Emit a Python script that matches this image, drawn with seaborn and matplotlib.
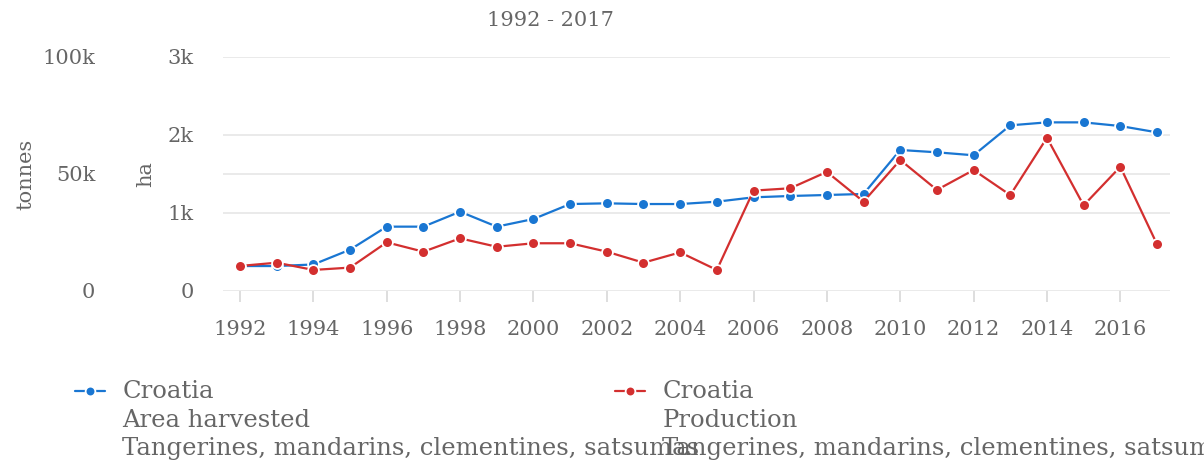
import numpy as np
import pandas as pd
import seaborn as sns
import matplotlib.pyplot as plt
from matplotlib.lines import Line2D
from matplotlib.legend_handler import HandlerLine2D
from matplotlib.ticker import FixedLocator

sns.set_style("white")
plt.rcParams['font.family'] = ['DejaVu Serif']

# Data
years = list(range(1992, 2018))
area_ha = [320, 320, 340, 530, 825, 825, 1017, 825, 923, 1115,
           1124, 1115, 1115, 1145, 1201, 1218, 1231, 1244, 1808, 1778,
           1740, 2124, 2162, 2162, 2115, 2034]
production_t = [10700, 12100, 9000, 10000, 20800, 16800, 22500, 18900, 20400, 20400,
                16800, 12100, 16500, 9000, 42900, 43900, 50900, 38200, 56000, 43200,
                51700, 41000, 65500, 36600, 53100, 20000]

ha_ticks = [0, 1000, 2000, 3000]
ha_labels = ['0', '1k', '2k', '3k']
t_ticks = [0, 50000, 100000]
t_labels = ['0', '50k', '100k']
x_ticks = list(range(1992, 2017, 2))

title = "1992 - 2017"
item = "Tangerines, mandarins, clementines, satsumas"
series = [("Croatia\nArea harvested\n" + item, "#1976d2"),
          ("Croatia\nProduction\n" + item, "#d32f2f")]

df = pd.DataFrame({"Year": years, "Area": area_ha, "Production": production_t})

grey = "#666666"
grid_c = "#e6e6e6"
fs = 15
leg_fs = 17.5

W, H = 1204, 466
fig = plt.figure(figsize=(W / 100, H / 100), dpi=100)
left, right, top, bottom = 223, 1170, 57, 291
ax = fig.add_axes([left / W, 1 - bottom / H, (right - left) / W, (bottom - top) / H])
ax2 = ax.twinx()

line_kw = dict(marker='o', markersize=7.8, markeredgecolor='white',
               markeredgewidth=1.3, linewidth=1.6, clip_on=False)
sns.lineplot(data=df, x="Year", y="Area", ax=ax, color=series[0][1], **line_kw)
sns.lineplot(data=df, x="Year", y="Production", ax=ax2, color=series[1][1], **line_kw)

ax.set_xlim(1992 - 17 / 36.67, 2017 + 13 / 36.67)
ax.set_ylim(ha_ticks[0], ha_ticks[-1])
ax2.set_ylim(t_ticks[0], t_ticks[-1])

# ha axis (inner)
ax.set_yticks(ha_ticks)
ax.set_yticklabels(ha_labels)
ax.yaxis.set_minor_locator(FixedLocator([t * ha_ticks[-1] / t_ticks[-1] for t in t_ticks]))
ax.tick_params(axis='y', which='both', length=0, pad=21, labelsize=fs, labelcolor=grey)
ax.grid(True, axis='y', which='both', color=grid_c, linewidth=1.2)
ax.set_axisbelow(True)

# tonnes axis (outer, also on the left)
ax2.yaxis.tick_left()
ax2.yaxis.set_label_position('left')
ax2.set_yticks(t_ticks)
ax2.set_yticklabels(t_labels)
ax2.tick_params(axis='y', length=0, pad=92, labelsize=fs, labelcolor=grey)
ax2.grid(False)

ax.set_ylabel("ha", fontsize=fs, color=grey)
ax2.set_ylabel("tonnes", fontsize=fs, color=grey)
ax.yaxis.set_label_coords(-0.072, 0.5)
ax2.yaxis.set_label_coords(-0.198, 0.5)

# x axis
ax.set_xticks(x_ticks)
ax.set_xticklabels([str(y) for y in x_ticks])
ax.set_xlabel("")
ax.tick_params(axis='x', length=8, width=1.2, color="#d8d8d8", pad=13,
               labelsize=fs, labelcolor=grey, bottom=True)

for a in (ax, ax2):
    for s in a.spines.values():
        s.set_visible(False)

fig.text(550 / W, 1 - 20 / H, title, ha='center', va='center', fontsize=fs, color=grey)


class TopHandler(HandlerLine2D):
    # put the symbol next to the first line of a multi-line label
    def create_artists(self, legend, orig_handle, xdescent, ydescent, width, height, fontsize, trans):
        arts = super().create_artists(legend, orig_handle, xdescent, ydescent,
                                      width, height, fontsize, trans)
        for a in arts:
            a.set_ydata(np.asarray(a.get_ydata()) + 21.6)
        return arts


for (label, color), x0 in zip(series, [75, 615]):
    h = Line2D([], [], color=color, marker='o', markersize=7, markeredgecolor='white',
               markeredgewidth=1.3, linewidth=1.6)
    leg = fig.legend([h], [label], loc='upper left', bbox_to_anchor=(x0 / W, 1 - 380 / H),
                     frameon=False, fontsize=leg_fs, handlelength=1.24, handletextpad=0.7,
                     borderpad=0, borderaxespad=0, handler_map={Line2D: TopHandler()})
    for t in leg.get_texts():
        t.set_color(grey)
        t.set_linespacing(1.31)

fig.savefig("out.png", dpi=100)
